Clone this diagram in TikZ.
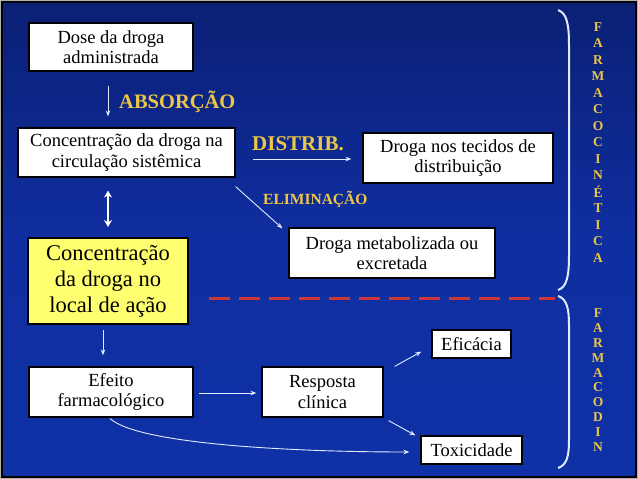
\documentclass[tikz,border=0pt]{standalone}
\usepackage{fontspec}
\setmainfont{Liberation Serif}
\usetikzlibrary{arrows.meta,calc}
\definecolor{gold}{RGB}{236,198,70}
\definecolor{dashred}{RGB}{205,55,55}
\definecolor{boxyellow}{RGB}{255,255,112}
\definecolor{linewhite}{RGB}{225,235,255}
\definecolor{bgA}{RGB}{16,52,172}
\definecolor{bgB}{RGB}{15,46,160}
\definecolor{bgC}{RGB}{10,30,112}
\definecolor{bgD}{RGB}{2,4,16}
\pgfdeclareverticalshading{bgshade}{100bp}{color(0bp)=(bgA); color(50bp)=(bgB); color(78bp)=(bgC); color(100bp)=(bgD)}
\begin{document}
\begin{tikzpicture}[x=1pt,y=-1pt,
  wbox/.style={draw=black,line width=1.2pt,fill=white,inner sep=0pt,align=center,
    font=\fontsize{18.5}{20.5}\selectfont},
  ybox/.style={draw=black,line width=2pt,fill=boxyellow,inner sep=0pt,align=center,
    font=\fontsize{22.5}{26}\selectfont},
  conn/.style={draw=linewhite,line width=0.9pt,-{Stealth[length=6pt,width=4.5pt]}},
  bigconn/.style={draw=white,line width=2.6pt,{Stealth[length=7pt,width=8pt]}-{Stealth[length=7pt,width=8pt]}},
  lab/.style={text=gold,font=\bfseries,inner sep=0pt,anchor=west},
  vlet/.style={text=gold,font=\bfseries\fontsize{13.5}{13.5}\selectfont,inner sep=0pt},
  bracket/.style={draw=linewhite,line width=2pt}
]
\useasboundingbox (0,0) rectangle (638,479);
% frame and background
\fill[gray!60] (0,0) rectangle (638,479);
\fill[black] (1,1) rectangle (637,478);
\fill[shading=bgshade] (3.5,3.5) rectangle (634.5,475.5);

% boxes
\node[wbox,minimum width=164pt,minimum height=48pt] (dose) at (111,47) {Dose da droga\\administrada};
\node[wbox,minimum width=217pt,minimum height=49pt] (conc) at (126.5,152.5) {Concentração da droga na\\circulação sistêmica};
\node[ybox,minimum width=160pt,minimum height=86pt] (local) at (108,281) {Concentração\\da droga no\\local de ação};
\node[wbox,minimum width=190pt,minimum height=50pt] (tec) at (458,158) {Droga nos tecidos de\\distribuição};
\node[wbox,minimum width=206pt,minimum height=50pt] (metab) at (392,253) {Droga metabolizada ou\\excretada};
\node[wbox,minimum width=164pt,minimum height=50pt] (efeito) at (111,392) {Efeito\\farmacológico};
\node[wbox,minimum width=121pt,minimum height=50pt] (resp) at (322.5,392) {Resposta\\clínica};
\node[wbox,minimum width=79pt,minimum height=28pt] (efic) at (471.5,344) {Eficácia};
\node[wbox,minimum width=101pt,minimum height=28pt] (tox) at (471.5,450) {Toxicidade};

% helper coordinates
\coordinate (xa) at (108,0);
\coordinate (xb) at (103,0);
\coordinate (yd) at (0,159);
\coordinate (ye) at (0,393);

% connectors
\draw[conn,shorten <=14pt,shorten >=11pt] (dose.south -| xa) -- (conc.north -| xa);
\draw[bigconn,shorten <=13pt,shorten >=10pt] (conc.south -| xa) -- (local.north -| xa);
\draw[conn,shorten <=17pt,shorten >=11pt] (conc.east |- yd) -- (tec.west |- yd);
\draw[conn] ($(conc.south east)+(0,9)$) -- ($(metab.north west)+(-6,1)$);
\draw[conn,shorten <=5pt,shorten >=11pt] (local.south -| xb) -- (efeito.north -| xb);
\draw[conn,shorten <=5pt,shorten >=5pt] (efeito.east |- ye) -- (resp.west |- ye);
\draw[conn] ($(resp.north east)+(11,0)$) -- ($(efic.south west)+(-10,-7)$);
\draw[conn] ($(resp.south east)+(5,3)$) -- ($(tox.north west)+(-5,0)$);
\draw[conn] ($(efeito.south)+(-1,1)$) .. controls (140,445) and (300,452) .. ($(tox.west)+(-11,2)$);

% labels
\node[lab,font=\bfseries\fontsize{20.5}{20.5}\selectfont] (labA) at (119,102) {ABSORÇÃO};
\node[lab,font=\bfseries\fontsize{21}{21}\selectfont] (labD) at (252,144) {DISTRIB.};
\node[lab,font=\bfseries\fontsize{15.5}{15.5}\selectfont] (labE) at (263,199) {ELIMINAÇÃO};

% red dashed separator
\draw[dashred,line width=3pt,dash pattern=on 21pt off 9pt] (209,298) -- (555,298);

% brackets
\draw[bracket] (558,10) .. controls (567,13) and (569,25) .. (569,45) -- (569,255) .. controls (569,276) and (567,287) .. (558,290);
\draw[bracket] (558,296) .. controls (567,299) and (569,309) .. (569,325) -- (569,440) .. controls (569,456) and (567,465) .. (558,468);

% vertical words
\foreach \l [count=\i from 0] in {F,A,R,M,A,C,O,C,I,N,É,T,I,C,A}
  \node[vlet] (pk\i) at (598,{27+16.5*\i}) {\l};
\foreach \l [count=\i from 0] in {F,A,R,M,A,C,O,D,I,N}
  \node[vlet] (pd\i) at (598,{313+14.9*\i}) {\l};
\end{tikzpicture}
\end{document}
